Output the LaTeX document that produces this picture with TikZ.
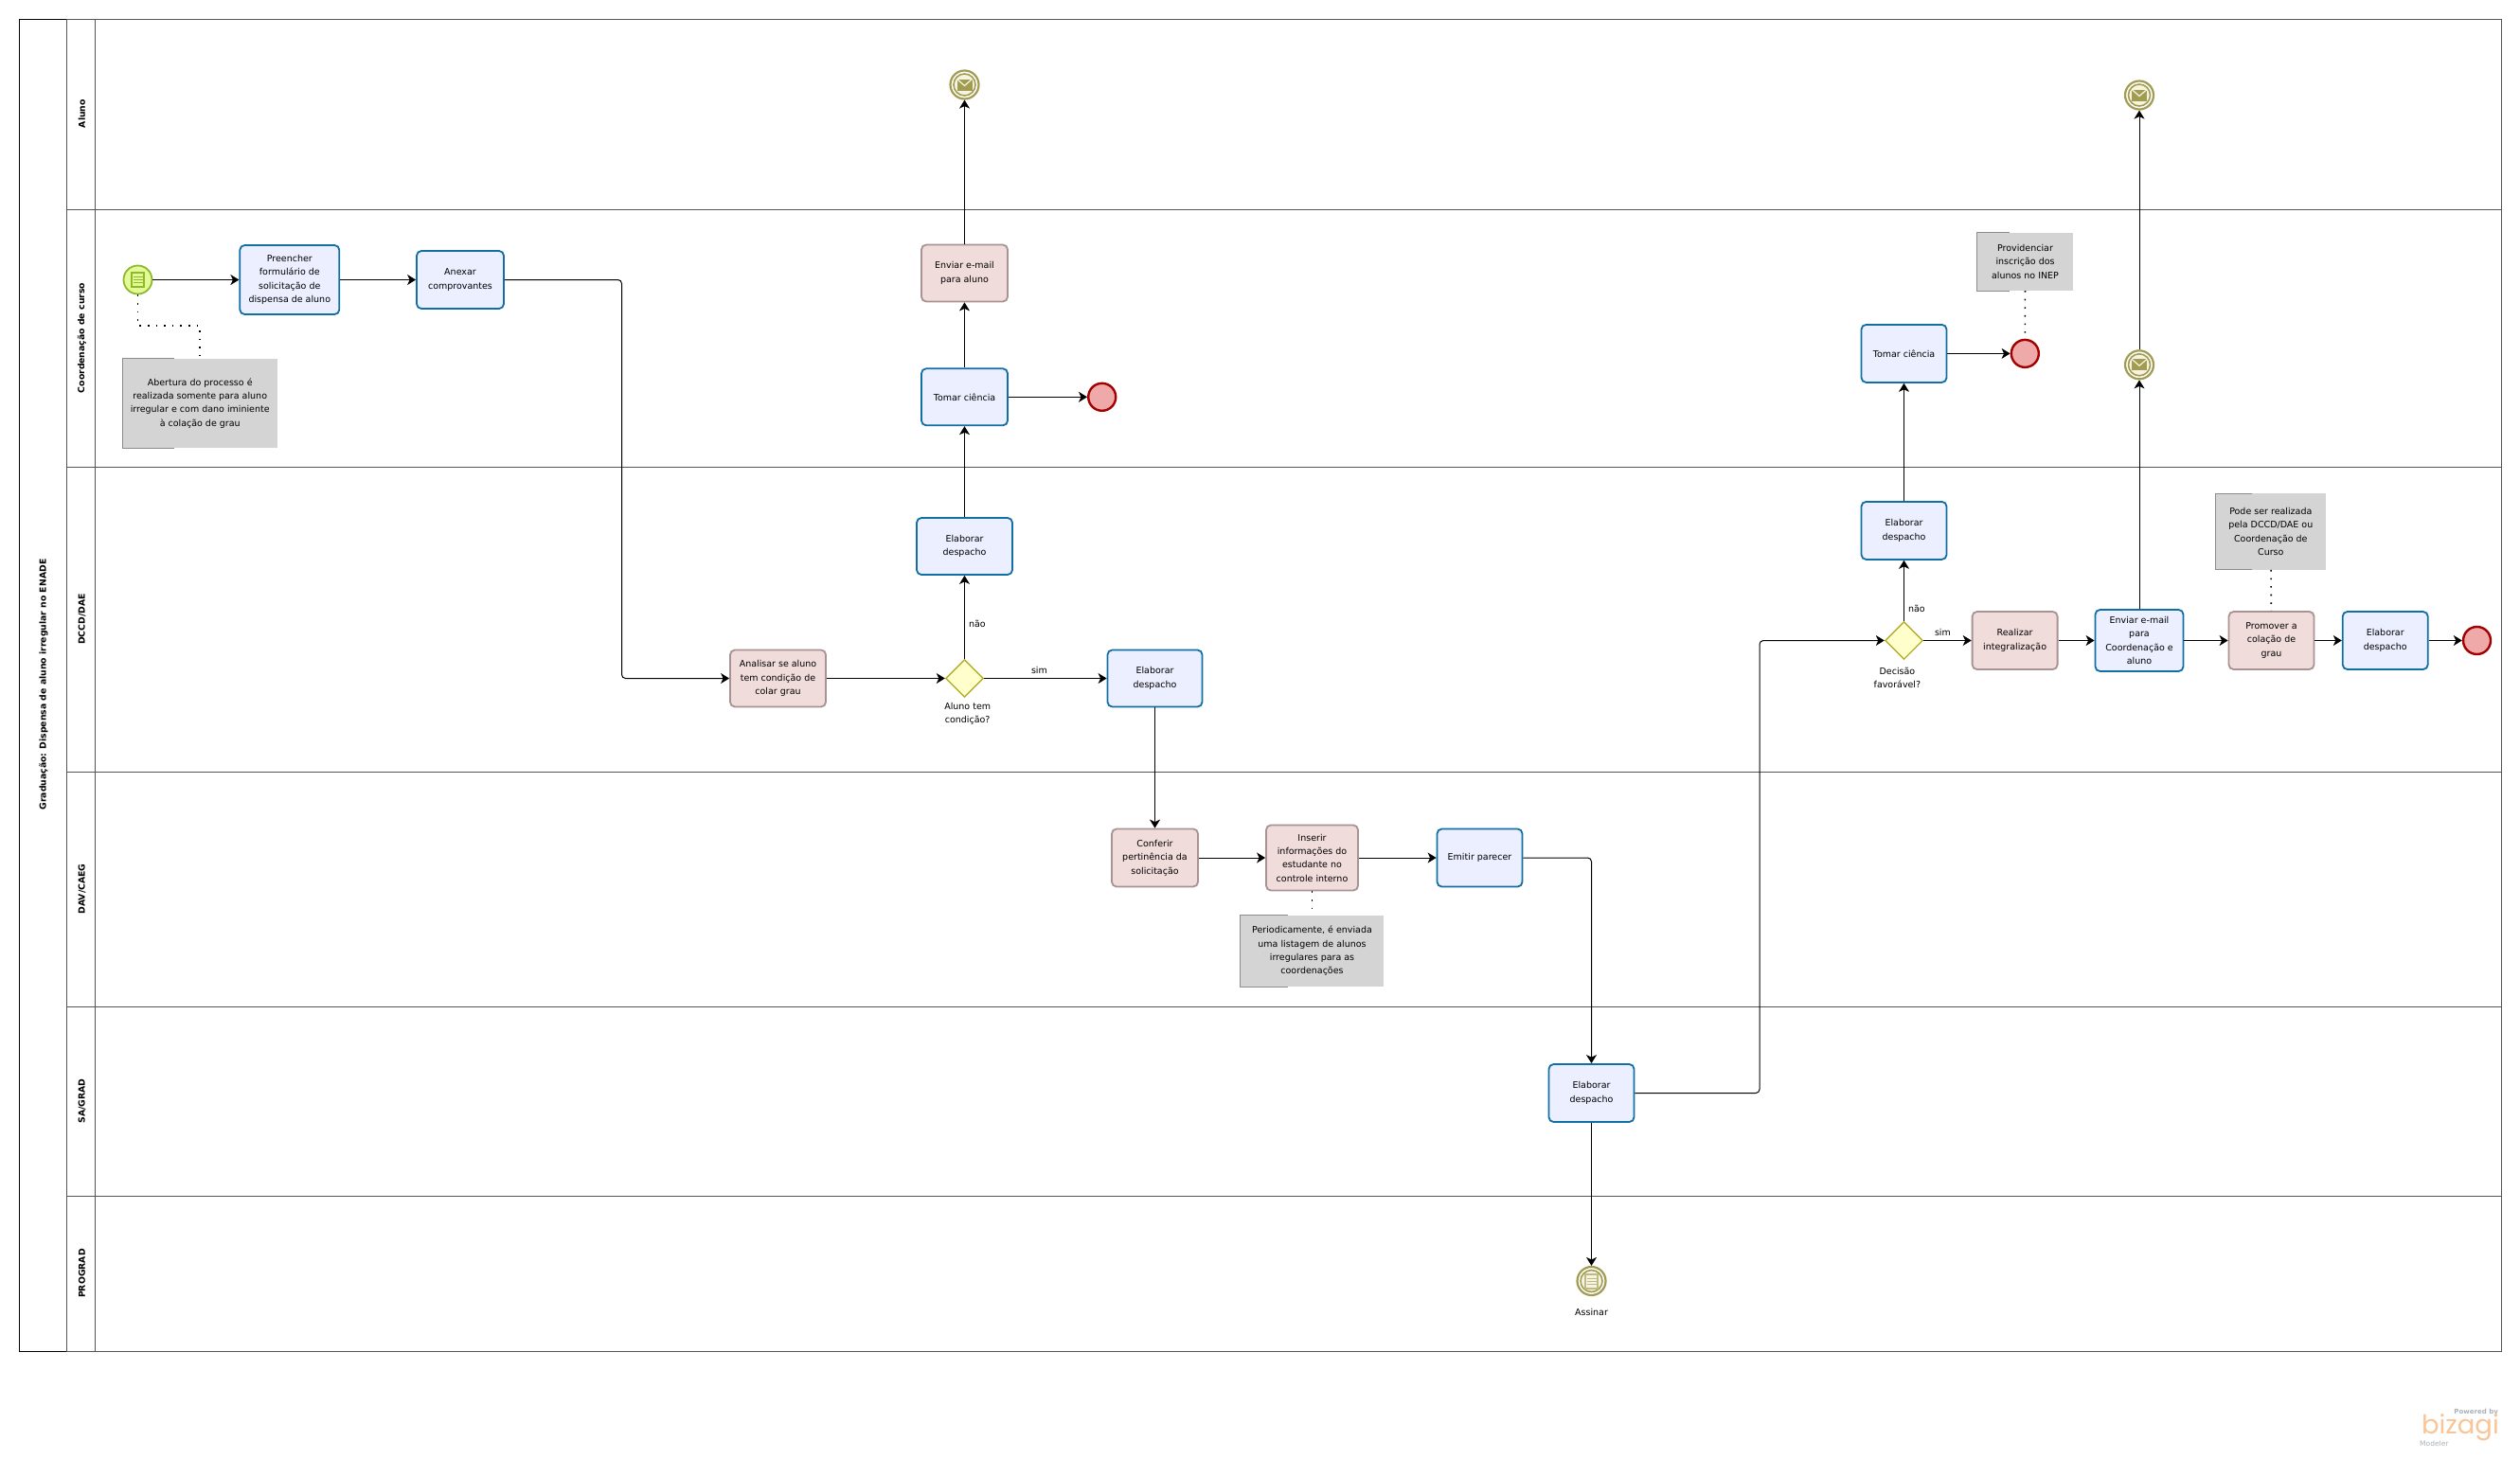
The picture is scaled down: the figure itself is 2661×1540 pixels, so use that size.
\documentclass[tikz,border=0pt]{standalone}
\usepackage{xcolor}
\usepackage{fontspec}
\setmainfont{DejaVu Sans}
\newfontfamily\logofont{Poppins}
\usetikzlibrary{arrows.meta,shapes.geometric}
\definecolor{taskblue}{HTML}{ECEFFF}
\definecolor{taskline}{HTML}{116FA3}
\definecolor{pinkfill}{HTML}{F1DCDC}
\definecolor{pinkline}{HTML}{A89292}
\definecolor{notefill}{HTML}{D4D4D4}
\definecolor{noteline}{HTML}{8C8C8C}
\definecolor{laneline}{HTML}{555555}
\definecolor{startline}{HTML}{8DB92E}
\definecolor{startfill}{HTML}{E4FB95}
\definecolor{endline}{HTML}{A30000}
\definecolor{endfill}{HTML}{EFA9A9}
\definecolor{eventolive}{HTML}{A19C52}
\definecolor{msgfill}{HTML}{F6F4E0}
\definecolor{gateline}{HTML}{B4AE2C}
\definecolor{gatefill}{HTML}{FFFFCC}
\definecolor{logoorange}{HTML}{F9C596}
\definecolor{logogray}{HTML}{A9B1B8}

\begin{document}
\begin{tikzpicture}[x=1pt,y=-1pt,txt/.style={font=\fontsize{9.5}{14.3}\selectfont,align=center},task/.style={txt,draw=taskline,fill=taskblue,line width=1.8pt,rounded corners=5pt,minimum width=90pt,minimum height=61pt,inner sep=1pt},pinktask/.style={task,draw=pinkline,fill=pinkfill},note/.style={txt,fill=notefill,inner sep=1pt},notemark/.style={draw=noteline,line width=1pt},edge/.style={-{Stealth[length=9pt,width=11pt,inset=2.5pt]},draw=black,line width=1pt,rounded corners=4pt},assoc/.style={draw=black,line width=1.6pt,dash pattern=on 1.6pt off 7pt},edgelabel/.style={txt,inner sep=4pt},lane/.style={draw=laneline,line width=0.9pt},lanelabel/.style={font=\fontsize{9.3}{11}\selectfont\bfseries,rotate=90},startevent/.style={circle,draw=startline,fill=startfill,line width=1.8pt,minimum size=30pt,inner sep=0pt},endevent/.style={circle,draw=endline,fill=endfill,line width=2.4pt,minimum size=29pt,inner sep=0pt},msgevent/.style={circle,draw=eventolive,fill=white,line width=2.2pt,minimum size=30pt,inner sep=0pt},gateway/.style={diamond,aspect=1,draw=gateline,fill=gatefill,line width=1.4pt,minimum size=40pt,inner sep=0pt},pics/mailicon/.style={code={\draw[eventolive,fill=msgfill,line width=1.6pt] (0,0) circle (11.5);\fill[eventolive] (-8,-6) rectangle (8,6);\draw[msgfill,line width=1.2pt] (-8,-6) -- (0,1) -- (8,-6);}},pics/docicon/.style 2 args={code={\fill[#1] (-7.5,-8.5) rectangle (7.5,8.5);\fill[#2] (-5.5,-6.5) rectangle (5.5,6.5);\draw[#1,line width=1pt] (-5,-3) -- (5,-3) (-5,0) -- (5,0) (-5,3) -- (5,3);}}]
\useasboundingbox (0,0) rectangle (2661,1540);
\fill[white] (0,0) rectangle (2661,1540);
\draw[lane] (70,20) rectangle (2641.5,221);
\draw[lane] (70,221) rectangle (2641.5,493);
\draw[lane] (70,493) rectangle (2641.5,815);
\draw[lane] (70,815) rectangle (2641.5,1063);
\draw[lane] (70,1063) rectangle (2641.5,1263);
\draw[lane] (70,1263) rectangle (2641.5,1427);
\draw[lane] (100,20) -- (100,1427);
\draw[draw=black,line width=0.9pt] (70,20) -- (20,20) -- (20,1427) -- (70,1427);
\node[lanelabel] (pooltitle) at (46,723) {Graduação: Dispensa de aluno irregular no ENADE};
\node[lanelabel] (aluno) at (86.5,120) {Aluno};
\node[lanelabel] (coord) at (86.5,357) {Coordenação de curso};
\node[lanelabel] (dccd) at (86.5,654) {DCCD/DAE};
\node[lanelabel] (dav) at (86.5,939) {DAV/CAEG};
\node[lanelabel] (sagrad) at (86.5,1163) {SA/GRAD};
\node[lanelabel] (prograd) at (86.5,1345) {PROGRAD};
\node[startevent] (start) at (145.5,295.5) {};
\node[task,minimum width=105pt,minimum height=73pt] (preencher) at (305.8,295.5) {Preencher\\formulário de\\solicitação de\\dispensa de aluno};
\node[task,minimum width=92pt] (anexar) at (486,295.5) {Anexar\\comprovantes};
\node[note,minimum width=163.5pt,minimum height=94pt] (note1) at (211.2,425.8) {Abertura do processo é\\realizada somente para aluno\\irregular e com dano iminiente\\à colação de grau};
\node[pinktask,minimum width=101pt,minimum height=60pt] (analisar) at (821.5,716.5) {Analisar se aluno\\tem condição de\\colar grau};
\node[gateway] (gate1) at (1018.5,716.5) {};
\node[txt] (gate1txt) at (1021.7,754) {Aluno tem\\condição?};
\node[task,minimum width=101pt,minimum height=60pt] (elab1) at (1018.5,577) {Elaborar\\despacho};
\node[task,minimum width=91pt,minimum height=60pt] (tomar1) at (1018.5,419.3) {Tomar ciência};
\node[pinktask,minimum width=91pt,minimum height=60pt] (enviar1) at (1018.5,288.5) {Enviar e-mail\\para aluno};
\node[msgevent] (msg1) at (1018.5,89.5) {};
\node[endevent] (end1) at (1163.7,419.3) {};
\node[task,minimum width=100pt,minimum height=60pt] (elab2) at (1219.5,716.5) {Elaborar\\despacho};
\node[pinktask,minimum width=91pt] (conferir) at (1219.5,906) {Conferir\\pertinência da\\solicitação};
\node[pinktask,minimum width=97pt,minimum height=69pt] (inserir) at (1385.5,906) {Inserir\\informações do\\estudante no\\controle interno};
\node[note,minimum width=151pt,minimum height=75pt] (note2) at (1385.5,1004.5) {Periodicamente, é enviada\\uma listagem de alunos\\irregulares para as\\coordenações};
\node[task] (emitir) at (1562.5,906) {Emitir parecer};
\node[task] (elab3) at (1680.5,1154.5) {Elaborar\\despacho};
\node[msgevent] (doc1) at (1680.5,1353) {};
\node[txt] (doc1txt) at (1680.5,1386) {Assinar};
\coordinate (bend1) at (656.5,716.5);
\coordinate (bend2) at (1858,676.5);
\coordinate (bend3) at (145.5,344);
\node[gateway] (gate2) at (2010.5,676.5) {};
\node[txt] (gate2txt) at (2003.4,716) {Decisão\\favorável?};
\node[task] (elab4) at (2010.5,560.4) {Elaborar\\despacho};
\node[task] (tomar2) at (2010.5,373.4) {Tomar ciência};
\node[endevent] (end2) at (2138.3,373.4) {};
\node[note,minimum width=101pt,minimum height=61pt] (note3) at (2138.5,276.4) {Providenciar\\inscrição dos\\alunos no INEP};
\node[pinktask] (realizar) at (2127.6,676.5) {Realizar\\integralização};
\node[task,minimum width=93pt,minimum height=65pt] (enviar2) at (2259,676.5) {Enviar e-mail\\para\\Coordenação e\\aluno};
\node[msgevent] (msg2) at (2259,385.3) {};
\node[msgevent] (msg3) at (2259,100.5) {};
\node[pinktask] (promover) at (2398.5,676.5) {Promover a\\colação de\\grau};
\node[note,minimum width=116pt,minimum height=80.4pt] (note4) at (2397.8,561.5) {Pode ser realizada\\pela DCCD/DAE ou\\Coordenação de\\Curso};
\node[task] (elab5) at (2518.7,676.5) {Elaborar\\despacho};
\node[endevent] (end3) at (2615.5,676.5) {};
\pic at (start) {docicon={startline}{startfill}};
\draw[eventolive,fill=msgfill,line width=1.6pt] (doc1) circle (11.5);
\pic at (doc1) {docicon={eventolive!70}{msgfill}};
\pic at (msg1) {mailicon};
\pic at (msg2) {mailicon};
\pic at (msg3) {mailicon};
\draw[notemark] ([xshift=54.5pt]note1.north west) -- (note1.north west) -- (note1.south west) -- ++(54.5,0);
\draw[notemark] ([xshift=50pt]note2.north west) -- (note2.north west) -- (note2.south west) -- ++(50,0);
\draw[notemark] ([xshift=34pt]note3.north west) -- (note3.north west) -- (note3.south west) -- ++(34,0);
\draw[notemark] ([xshift=38pt]note4.north west) -- (note4.north west) -- (note4.south west) -- ++(38,0);
\draw[edge] (start) -- (preencher);
\draw[edge] (preencher) -- (anexar);
\draw[edge] (anexar) -| (bend1) -- (analisar);
\draw[edge] (analisar) -- (gate1);
\draw[edge] (gate1) -- node[edgelabel,right,pos=0.42]{não} (elab1);
\draw[edge] (gate1) -- node[edgelabel,above,pos=0.45]{sim} (elab2);
\draw[edge] (elab1) -- (tomar1);
\draw[edge] (tomar1) -- (enviar1);
\draw[edge] (tomar1) -- (end1);
\draw[edge] (enviar1) -- (msg1);
\draw[edge] (elab2) -- (conferir);
\draw[edge] (conferir) -- (inserir);
\draw[edge] (inserir) -- (emitir);
\draw[edge] (emitir) -| (elab3);
\draw[edge] (elab3) -- (doc1);
\draw[edge] (elab3) -| (bend2) -- (gate2);
\draw[edge] (gate2) -- node[edgelabel,right,pos=0.2]{não} (elab4);
\draw[edge] (gate2) -- node[edgelabel,above,pos=0.4]{sim} (realizar);
\draw[edge] (elab4) -- (tomar2);
\draw[edge] (tomar2) -- (end2);
\draw[edge] (realizar) -- (enviar2);
\draw[edge] (enviar2) -- (msg2);
\draw[edge] (msg2) -- (msg3);
\draw[edge] (enviar2) -- (promover);
\draw[edge] (promover) -- (elab5);
\draw[edge] (elab5) -- (end3);
\draw[assoc] (start) |- (bend3) -| (note1);
\draw[assoc] (inserir) -- (note2);
\draw[assoc] (note3) -- (end2);
\draw[assoc] (note4) -- (promover);
\node[font=\fontsize{7}{8}\selectfont\bfseries,text=logogray,anchor=east,inner sep=0pt] (powered) at (2638,1492) {Powered by};
\node[font=\logofont\fontsize{27.5}{28}\selectfont,text=logoorange,anchor=east,inner sep=0pt] (bizagi) at (2639,1508) {bizagi};
\node[font=\fontsize{7.5}{8}\selectfont,text=logogray,anchor=west,inner sep=0pt] (modeler) at (2555,1525) {Modeler};
\end{tikzpicture}
\end{document}
